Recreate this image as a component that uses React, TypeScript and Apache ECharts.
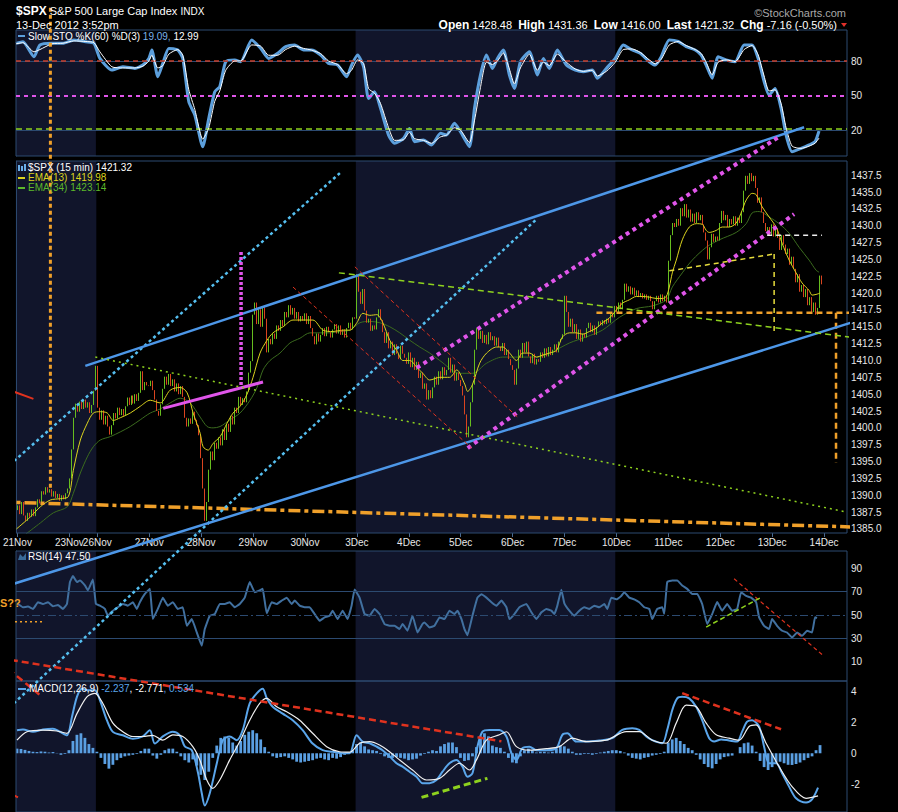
import React, { useEffect, useRef } from "react";
import * as echarts from "echarts";

const FONT = '"Liberation Sans", Arial, sans-serif';

// ---------------- time axis ----------------
const dayLabels = ["21Nov", "23Nov", "26Nov", "27Nov", "28Nov", "29Nov", "30Nov", "3Dec", "4Dec", "5Dec", "6Dec", "7Dec", "10Dec", "11Dec", "12Dec", "13Dec"];
const barsPerDay = [26, 14, 26, 26, 26, 26, 26, 26, 26, 26, 26, 26, 26, 26, 26, 26];
const futureLabel = "14Dec";
const padBars = 12;
const shadedWeeks = [["21Nov", "26Nov"], ["3Dec", "10Dec"]];

// ---------------- price (15 min closes) ----------------
const firstOpen = 1387.8;
const closes = [
  // 21Nov
  1388.5, 1387.2, 1389.0, 1387.0, 1386.2, 1387.4, 1386.8, 1387.9, 1386.9, 1388.2, 1389.4, 1388.8, 1390.6, 1390.1, 1391.2, 1390.4, 1390.9, 1389.8, 1390.6, 1389.6, 1390.2, 1389.2, 1390.0, 1389.4, 1390.3, 1391.0,
  // 23Nov
  1392.5, 1396.8, 1401.5, 1403.6, 1402.4, 1403.9, 1402.8, 1404.2, 1403.0, 1403.8, 1402.2, 1403.4, 1405.5, 1409.2,
  // 26Nov
  1403.0, 1401.2, 1402.6, 1400.5, 1401.8, 1400.2, 1399.0, 1400.4, 1402.2, 1401.4, 1403.0, 1401.9, 1402.8, 1401.8, 1403.2, 1404.5, 1403.4, 1404.8, 1403.6, 1405.0, 1404.0, 1405.2, 1408.4, 1405.6, 1406.8, 1406.3,
  // 27Nov
  1406.2, 1407.0, 1405.6, 1404.2, 1402.5, 1401.8, 1403.5, 1405.8, 1407.6, 1406.4, 1408.0, 1406.2, 1407.2, 1405.4, 1406.6, 1405.0, 1406.2, 1404.6, 1401.5, 1400.2, 1401.4, 1400.6, 1402.4, 1401.2, 1400.4, 1398.9,
  // 28Nov
  1395.5, 1391.0, 1386.2, 1389.0, 1393.8, 1396.5, 1395.2, 1397.8, 1396.9, 1398.6, 1397.4, 1399.8, 1398.2, 1400.6, 1399.4, 1401.8, 1400.5, 1403.0, 1402.2, 1404.6, 1403.4, 1404.4, 1403.8, 1405.4, 1408.2, 1409.9,
  // 29Nov
  1416.8, 1418.6, 1415.4, 1417.6, 1415.0, 1417.9, 1416.2, 1411.2, 1413.2, 1412.4, 1414.0, 1413.2, 1415.2, 1414.4, 1416.0, 1415.1, 1417.2, 1416.4, 1418.2, 1416.8, 1417.8, 1416.2, 1417.2, 1415.8, 1416.6, 1415.9,
  // 30Nov
  1417.0, 1415.4, 1416.6, 1414.8, 1413.6, 1412.4, 1414.0, 1412.8, 1413.8, 1414.8, 1413.6, 1415.0, 1414.2, 1413.4, 1414.6, 1415.4, 1414.0, 1415.2, 1413.8, 1414.6, 1413.4, 1414.8, 1415.6, 1414.6, 1416.4, 1416.2,
  // 3Dec
  1422.8, 1420.2, 1418.4, 1420.6, 1417.4, 1415.6, 1416.2, 1414.4, 1415.2, 1414.6, 1416.4, 1417.6, 1416.0, 1414.2, 1412.6, 1414.2, 1411.8, 1412.8, 1410.8, 1412.4, 1411.0, 1410.2, 1412.2, 1411.0, 1410.4, 1409.5,
  // 4Dec
  1411.2, 1409.0, 1410.4, 1408.6, 1409.8, 1407.4, 1408.2, 1405.8, 1406.6, 1404.2, 1405.6, 1404.4, 1406.0, 1407.6, 1406.4, 1408.4, 1407.2, 1409.0, 1407.8, 1408.6, 1410.4, 1408.2, 1409.4, 1407.0, 1408.2, 1407.1,
  // 5Dec
  1406.2, 1404.8, 1402.0, 1398.6, 1400.2, 1403.8, 1406.4, 1411.6, 1414.8, 1413.2, 1414.4, 1412.6, 1413.8, 1412.4, 1414.2, 1413.0, 1413.6, 1412.2, 1413.4, 1412.0, 1411.4, 1412.6, 1410.8, 1411.6, 1410.2, 1409.3,
  // 6Dec
  1408.6, 1406.4, 1408.8, 1411.6, 1410.4, 1412.6, 1411.2, 1412.8, 1410.6, 1409.6, 1411.0, 1409.4, 1410.2, 1409.8, 1411.2, 1410.4, 1411.8, 1410.6, 1412.0, 1410.8, 1411.6, 1412.4, 1411.2, 1412.8, 1413.2, 1413.9,
  // 7Dec
  1419.6, 1417.2, 1415.0, 1416.2, 1414.2, 1415.4, 1413.2, 1414.6, 1412.8, 1414.0, 1413.4, 1414.8, 1415.6, 1414.2, 1415.2, 1413.8, 1415.0, 1415.8, 1415.2, 1416.0, 1415.4, 1416.2, 1415.6, 1417.0, 1416.4, 1418.1,
  // 10Dec
  1417.2, 1418.6, 1417.6, 1419.0, 1421.4, 1420.2, 1421.0, 1419.8, 1420.8, 1419.6, 1420.4, 1419.4, 1420.0, 1419.2, 1419.8, 1419.0, 1419.6, 1418.8, 1417.6, 1418.8, 1419.6, 1418.6, 1419.8, 1418.8, 1419.6, 1418.6,
  // 11Dec
  1424.8, 1428.6, 1430.4, 1429.8, 1431.0, 1430.0, 1432.6, 1431.4, 1433.2, 1431.2, 1432.4, 1430.6, 1431.8, 1430.4, 1432.0, 1430.8, 1431.6, 1430.2, 1429.0, 1427.8, 1425.0, 1426.8, 1428.8, 1427.6, 1428.4, 1427.8,
  // 12Dec
  1430.4, 1432.2, 1430.8, 1431.6, 1429.8, 1431.0, 1430.2, 1431.4, 1430.0, 1431.2, 1430.4, 1432.0, 1435.2, 1437.4, 1436.2, 1437.8, 1436.6, 1437.4, 1435.6, 1433.4, 1434.2, 1432.0, 1430.4, 1429.2, 1429.8, 1428.5,
  // 13Dec
  1430.2, 1428.4, 1429.6, 1428.2, 1426.4, 1428.6, 1427.2, 1425.8, 1426.6, 1424.2, 1425.4, 1423.6, 1421.6, 1422.8, 1420.2, 1421.2, 1419.4, 1420.6, 1418.2, 1419.4, 1417.2, 1418.6, 1416.8, 1417.8, 1422.6, 1421.3,
];

// ---------------- overlays, [bar position, value] ----------------
const ema13 = [
  [0, 1385.0], [7, 1386.8], [12, 1388.3], [17, 1389.3], [22, 1389.5], [26, 1389.8], [28.5, 1393.7], [32, 1398.2], [35.5, 1400.7], [38.5, 1402.2],
  [42, 1402.4], [45.5, 1402.2], [48.5, 1401.1], [52, 1401.5], [57, 1402.2], [62, 1403.2], [67, 1404.1], [72, 1403.7], [77, 1405.6], [82, 1406.0],
  [85.5, 1405.2], [88.5, 1402.2], [92, 1399.2], [93.5, 1397.2], [96, 1396.7], [98.5, 1397.7], [102, 1398.7], [105.5, 1400.7], [108.5, 1402.2], [112, 1403.2],
  [115.5, 1405.0], [118.5, 1407.5], [122, 1411.1], [125.5, 1413.0], [128.5, 1414.1], [133.5, 1415.0], [138.5, 1416.0], [143.5, 1416.0], [148.5, 1416.0], [153.5, 1414.5],
  [158.5, 1414.3], [163.5, 1414.5], [167, 1414.5], [170.5, 1415.6], [173.5, 1417.0], [177, 1416.7], [180.5, 1416.8], [183.5, 1415.6], [187, 1413.0], [190.5, 1411.5],
  [193.5, 1410.0], [197, 1410.0], [200.5, 1409.0], [203.5, 1408.1], [207, 1407.1], [212, 1407.5], [217, 1407.5], [220.5, 1408.6], [224.5, 1406.5], [226, 1405.4],
  [228.5, 1406.5], [232, 1409.6], [235.5, 1411.1], [240.5, 1412.0], [243.5, 1412.0], [247, 1411.1], [250.5, 1410.0], [253.5, 1411.1], [257, 1411.1], [260.5, 1410.5],
  [263.5, 1410.8], [267, 1411.1], [270.5, 1411.5], [273.5, 1413.5], [277, 1414.1], [280.5, 1414.1], [283.5, 1413.9], [287, 1414.3], [290.5, 1414.8], [293.5, 1415.6],
  [297, 1416.3], [300.5, 1417.5], [303.5, 1418.5], [307, 1419.0], [310.5, 1419.5], [313.5, 1419.5], [317, 1419.4], [320.5, 1419.2], [323.5, 1419.2], [325.5, 1419.5],
  [327, 1420.9], [328.5, 1423.0], [330.5, 1424.9], [333.5, 1427.9], [337, 1429.8], [340.5, 1430.3], [343.5, 1430.2], [345.5, 1429.3], [347, 1429.0], [350.5, 1429.3],
  [353.5, 1429.8], [357, 1429.8], [360.5, 1430.4], [363.5, 1432.3], [365.5, 1433.8], [368.5, 1434.8], [370.5, 1434.6], [373.5, 1432.8], [377, 1431.3], [380.5, 1429.8],
  [383.5, 1427.4], [387, 1424.9], [390.5, 1423.0], [393.5, 1421.5], [397, 1420.4], [398.5, 1419.7], [400.5, 1419.8], [402.5, 1420.0],
];
const ema34 = [
  [4.5, 1384.2], [12, 1385.9], [18.5, 1387.4], [25.5, 1388.3], [28.5, 1390.3], [32, 1393.3], [35.5, 1395.7], [38.5, 1397.2], [42, 1398.2], [47, 1398.7],
  [52, 1399.4], [57, 1400.2], [62, 1401.2], [67, 1402.2], [72, 1402.8], [77, 1403.7], [82, 1404.4], [87, 1403.7], [92, 1401.6], [95.5, 1400.2],
  [98.5, 1400.0], [102, 1400.2], [107, 1401.2], [112, 1402.2], [117, 1404.1], [120.5, 1406.0], [123.5, 1408.6], [127, 1410.0], [132, 1411.1], [137, 1412.6],
  [142, 1413.3], [147, 1414.1], [152, 1414.1], [157, 1414.1], [162, 1414.3], [167, 1414.5], [172, 1415.6], [177, 1415.8], [182, 1415.6], [187, 1415.0],
  [192, 1414.1], [197, 1413.0], [202, 1412.0], [207, 1411.1], [212, 1410.0], [222, 1408.1], [228.5, 1408.1], [235.5, 1409.6], [243.5, 1410.5], [252, 1410.5],
  [260.5, 1410.5], [268.5, 1411.3], [277, 1412.6], [285.5, 1413.5], [293.5, 1414.5], [302, 1416.4], [310.5, 1417.7], [318.5, 1418.1], [325.5, 1419.0], [328.5, 1420.9],
  [333.5, 1423.0], [338.5, 1424.9], [345.5, 1426.8], [352, 1427.9], [360.5, 1429.0], [365.5, 1430.3], [368.5, 1431.9], [372, 1432.1], [377, 1431.3], [382, 1430.3],
  [387, 1428.9], [392, 1426.8], [397, 1424.9], [400.5, 1423.4], [402, 1423.1],
];

const stoK = [
  [0, 95.4], [3.5, 96.8], [9, 83.7], [12, 93.9], [18, 95.4], [23.5, 95.4], [29, 98.3], [35, 96.8], [39, 95.4], [42, 82.3],
  [48, 72.2], [53.5, 75.0], [59.5, 73.6], [63.5, 76.5], [66.5, 82.3], [68, 89.6], [71, 66.4], [73.5, 78.0], [76.5, 91.0], [81, 89.6],
  [83.5, 82.3], [86.5, 44.6], [89.5, 33.0], [93.5, 5.5], [96.5, 30.2], [99.5, 53.3], [102, 57.7], [105, 79.4], [109.5, 80.9], [112.5, 79.4],
  [118, 98.3], [122.5, 91.0], [126.5, 82.3], [131, 86.7], [135, 92.5], [139.5, 93.9], [144, 89.6], [148, 89.6], [152.5, 85.2], [156.5, 78.0],
  [161, 76.5], [165.5, 66.4], [168, 76.5], [171, 85.2], [174, 75.0], [176.5, 47.5], [179.5, 53.3], [182.5, 38.8], [186.5, 15.6], [189.5, 8.4],
  [194, 12.7], [197, 21.4], [199.5, 9.8], [204, 11.3], [208, 7.0], [212.5, 17.1], [215.5, 15.6], [219.5, 25.8], [222.5, 18.5], [227, 5.5],
  [229.5, 38.8], [232.5, 67.8], [235.5, 85.2], [238.5, 73.6], [241, 82.3], [244, 89.6], [247, 67.8], [249.5, 56.2], [252.5, 79.4], [257, 88.1],
  [261, 67.8], [264, 82.3], [267, 73.6], [271, 89.6], [275.5, 76.5], [280, 72.2], [284, 70.7], [288.5, 72.2], [291, 65.0], [295.5, 73.6],
  [300, 82.3], [304, 93.9], [308.5, 89.6], [312.5, 86.7], [317, 79.4], [320, 76.5], [323, 83.7], [327, 98.3], [331.5, 97.0], [335.5, 92.5],
  [340, 89.6], [343, 85.2], [345.5, 76.5], [348.5, 65.0], [351.5, 83.7], [355.5, 80.9], [360, 79.4], [364.5, 93.9], [368.5, 93.9], [371.5, 82.3],
  [374.5, 62.2], [377, 50.4], [380, 56.2], [383, 38.8], [385.5, 15.6], [388.5, 1.1], [393, 4.0], [397, 7.0], [400, 9.8], [402, 19.09],
];
const stoD = [
  [0, 95.0], [3.5, 96.0], [9, 88.0], [12, 90.0], [18, 95.0], [23.5, 95.5], [29, 97.5], [35, 97.0], [39, 96.0], [42, 88.0],
  [48, 75.0], [53.5, 74.0], [59.5, 74.0], [63.5, 75.5], [66.5, 80.0], [68, 85.0], [71, 74.0], [73.5, 76.0], [76.5, 86.0], [81, 90.0],
  [83.5, 85.0], [86.5, 55.0], [89.5, 38.0], [93.5, 12.0], [96.5, 22.0], [99.5, 45.0], [102, 54.0], [105, 72.0], [109.5, 80.0], [112.5, 80.0],
  [118, 94.0], [122.5, 93.0], [126.5, 85.0], [131, 85.0], [135, 90.0], [139.5, 93.0], [144, 91.0], [148, 89.5], [152.5, 86.5], [156.5, 80.0],
  [161, 77.0], [165.5, 69.0], [168, 72.0], [171, 81.0], [174, 78.0], [176.5, 56.0], [179.5, 52.0], [182.5, 43.0], [186.5, 22.0], [189.5, 11.0],
  [194, 11.5], [197, 18.0], [199.5, 12.5], [204, 11.0], [208, 8.5], [212.5, 14.0], [215.5, 15.5], [219.5, 22.0], [222.5, 20.0], [227, 9.0],
  [229.5, 28.0], [232.5, 57.0], [235.5, 79.0], [238.5, 77.0], [241, 80.0], [244, 87.0], [247, 73.0], [249.5, 60.0], [252.5, 74.0], [257, 86.0],
  [261, 72.0], [264, 79.0], [267, 76.0], [271, 86.0], [275.5, 79.0], [280, 73.0], [284, 71.0], [288.5, 72.0], [291, 67.0], [295.5, 71.0],
  [300, 79.0], [304, 90.0], [308.5, 90.5], [312.5, 87.5], [317, 81.0], [320, 77.5], [323, 81.5], [327, 94.0], [331.5, 97.0], [335.5, 93.5],
  [340, 90.0], [343, 86.5], [345.5, 79.0], [348.5, 68.0], [351.5, 79.0], [355.5, 81.0], [360, 79.5], [364.5, 90.0], [368.5, 93.5], [371.5, 85.5],
  [374.5, 67.0], [377, 54.0], [380, 55.0], [383, 43.0], [385.5, 22.0], [388.5, 6.0], [393, 4.0], [397, 6.0], [400, 8.5], [402, 12.99],
];

const rsi14 = [
  [1, 59.4], [3.5, 56.6], [6, 57.2], [8.5, 55.2], [11, 60.9], [13.5, 59.4], [16, 60.9], [18.5, 57.5], [21, 58.5], [23.5, 55.2],
  [25.5, 59.4], [27, 78.1], [28.5, 83.2], [30.5, 78.1], [32, 79.5], [34.5, 75.2], [36, 71.0], [38.5, 80.3], [40, 59.4], [42, 58.0],
  [44.5, 55.2], [46, 49.4], [48.5, 53.7], [51, 56.6], [53.5, 59.4], [56, 58.0], [58.5, 60.9], [60.5, 55.2], [62, 60.9], [64.5, 68.0],
  [67, 72.3], [68.5, 46.5], [71, 55.2], [73.5, 64.8], [76, 57.9], [78.5, 60.9], [81, 55.2], [83.5, 56.6], [85.5, 40.8], [88, 46.5],
  [90.5, 35.1], [93, 23.7], [94.5, 38.0], [97, 49.4], [99.5, 50.8], [102, 59.4], [104.5, 59.4], [107, 60.9], [109.5, 56.6], [112, 59.4],
  [114.5, 64.8], [117, 78.1], [119.5, 69.4], [122, 71.0], [123.5, 72.3], [125.5, 51.4], [128, 60.9], [130.5, 59.4], [133, 62.3], [135.5, 64.8],
  [138, 59.4], [139.5, 62.3], [142, 58.0], [144.5, 56.6], [147, 56.6], [149.5, 50.8], [152, 45.1], [154.5, 48.0], [157, 49.4], [158.5, 53.7],
  [161, 46.5], [163.5, 53.7], [166, 46.5], [168, 58.0], [169.5, 71.7], [172, 64.8], [174.5, 50.8], [177, 49.4], [179.5, 55.2], [182, 50.8],
  [184.5, 42.3], [187, 40.8], [189.5, 40.8], [192, 38.0], [193.5, 42.3], [196, 36.6], [198.5, 49.4], [201, 35.1], [203.5, 42.3], [204.5, 43.7],
  [207, 39.4], [209.5, 40.8], [212, 47.9], [214.5, 46.5], [217, 53.7], [219.5, 50.8], [221, 53.7], [223, 46.5], [224.5, 38.0], [226, 32.8],
  [228.5, 49.4], [231, 64.8], [233, 67.7], [235.5, 64.8], [238, 60.9], [240.5, 57.9], [243, 62.3], [245.5, 56.6], [247, 46.5], [249.5, 50.8],
  [252, 56.6], [255.5, 59.4], [258, 52.3], [260.5, 46.5], [263, 52.3], [265.5, 55.2], [268, 53.7], [269.5, 50.8], [271, 58.0], [273, 71.6],
  [274.5, 60.0], [277, 53.7], [279.5, 49.4], [282, 53.7], [284.5, 56.6], [287, 55.2], [289.5, 58.0], [292, 56.6], [294.5, 59.4], [296, 55.2],
  [298, 64.8], [300.5, 63.4], [303, 66.3], [304.5, 69.4], [307, 64.8], [309.5, 63.4], [312, 60.9], [314.5, 56.6], [317, 55.2], [318.5, 46.5],
  [321, 55.2], [323.5, 56.6], [324.5, 51.0], [326, 78.1], [328.5, 79.5], [331, 79.5], [333.5, 75.2], [336, 72.3], [338.5, 68.0], [341, 68.0],
  [343.5, 59.4], [346, 42.3], [348.5, 50.8], [351, 61.0], [353.5, 53.7], [356, 59.4], [358.5, 53.7], [361, 55.2], [363, 69.4], [365.5, 66.3],
  [368, 64.8], [370.5, 60.9], [372, 48.0], [374.5, 40.8], [377, 38.0], [378.5, 46.5], [381, 40.8], [383.5, 36.6], [386, 35.1], [388.5, 30.8],
  [391, 35.1], [393.5, 32.2], [396, 36.6], [398.5, 35.1], [400, 48.0], [401, 47.5],
];

const macdLine = [
  [0.5, 1.50], [3.5, 1.55], [8.5, 1.40], [13.5, 1.55], [18.5, 1.60], [22, 1.40], [25.5, 1.17], [28, 2.36], [30.5, 3.67], [33, 4.20],
  [36, 4.10], [39.5, 4.10], [42, 3.45], [45.5, 2.15], [48.5, 1.39], [53.5, 1.17], [58.5, 0.95], [63.5, 1.10], [67, 1.50], [69.5, 0.63],
  [73.5, 1.10], [78.5, 1.40], [82, 1.17], [84.5, 0.45], [88, 0.20], [91, -1.20], [93, -2.60], [94.5, -3.39], [97, -2.60], [100.5, -0.67],
  [103.5, 0.85], [107, 1.09], [110.5, 0.85], [113.5, 1.50], [117, 3.24], [120.5, 3.89], [123.5, 4.20], [125.5, 3.60], [128.5, 3.02], [133.5, 2.58],
  [138.5, 2.15], [143.5, 1.50], [148.5, 0.63], [153.5, 0.20], [158.5, 0.10], [163.5, 0.00], [167, 0.00], [170.5, 1.17], [173.5, 0.76], [177, 0.65],
  [180.5, 0.43], [183.5, 0.20], [187, -0.20], [190.5, -0.65], [193.5, -0.87], [197, -1.20], [200.5, -1.52], [203.5, -1.95], [207, -1.95], [210.5, -1.74],
  [213.5, -1.20], [217, -0.65], [220.5, -0.43], [223.5, -0.87], [226, -1.52], [228.5, -1.30], [231, 0.43], [233.5, 1.41], [237, 1.52], [242, 1.52],
  [245.5, 1.09], [248, 0.00], [250.5, -0.43], [253.5, 0.33], [257, 0.43], [260.5, 0.20], [265.5, 0.20], [270.5, 0.33], [273.5, 1.20], [276, 1.30],
  [280.5, 0.76], [285.5, 0.76], [292, 0.83], [298.5, 0.98], [303.5, 1.52], [308.5, 1.63], [312, 1.52], [315.5, 1.09], [318.5, 0.85], [323.5, 0.65],
  [326, 1.52], [328.5, 2.80], [331, 3.57], [333.5, 3.67], [337, 3.57], [340.5, 3.02], [343.5, 2.15], [347, 0.98], [349.5, 0.76], [353, 0.90],
  [357, 0.83], [361, 0.76], [363.5, 1.41], [366, 2.06], [368.5, 2.15], [372, 1.74], [374.5, 0.43], [377, -0.65], [380.5, -0.65], [383.5, -1.30],
  [387, -2.17], [390.5, -2.93], [395.5, -3.20], [398.5, -3.00], [401.5, -2.24],
];
const macdSignal = [
  [0.5, 0.85], [5.5, 1.40], [13.5, 1.50], [20.5, 1.45], [25.5, 1.30], [30.5, 2.58], [35.5, 3.67], [39.5, 3.90], [43.5, 3.24], [48.5, 1.96],
  [53.5, 1.40], [58.5, 1.09], [63.5, 1.09], [68.5, 1.17], [73.5, 0.85], [78.5, 1.20], [83.5, 1.09], [88.5, 0.43], [92, -0.43], [95.5, -1.74],
  [98.5, -2.28], [102, -1.74], [107, -0.43], [112, 0.76], [117, 2.15], [122, 3.24], [125.5, 3.57], [130.5, 3.02], [135.5, 2.70], [142, 2.15],
  [148.5, 1.30], [155.5, 0.43], [162, 0.10], [167, 0.07], [172, 0.65], [177, 0.76], [182, 0.54], [187, 0.10], [192, -0.43], [198.5, -1.09],
  [205.5, -1.74], [212, -1.63], [217, -1.09], [222, -0.65], [227, -1.09], [230.5, -0.43], [235.5, 0.85], [242, 1.20], [245.5, 1.40], [250.5, 0.43],
  [257, 0.20], [265.5, 0.30], [272, 0.43], [278.5, 0.98], [285.5, 0.76], [295.5, 0.85], [305.5, 1.41], [312, 1.41], [318.5, 0.85], [325.5, 0.65],
  [330.5, 1.96], [335.5, 3.13], [340.5, 3.02], [345.5, 1.96], [350.5, 1.20], [357, 0.98], [362, 0.85], [367, 1.74], [370.5, 1.85], [375.5, 0.65],
  [382, -0.87], [388.5, -2.17], [395.5, -2.93], [401.5, -2.77],
];
// histogram read every 2nd bar
const HIST_STEP = 2;
const macdHist = [
  0.30, 0.28, 0.22, 0.15, 0.10, 0.08, 0.12, 0.10, 0.05, 0.08, 0.02, -0.10, -0.05, 0.20, 0.80, 1.20, 1.30, 1.00, 0.60, 0.35,
  0.10, -0.30, -0.70, -1.00, -0.75, -0.45, -0.30, -0.20, -0.15, -0.10, -0.05, 0.15, 0.30, 0.30, -0.15, -0.35, -0.10, 0.20, 0.30, 0.30,
  0.10, -0.20, -0.45, -0.60, -0.40, -0.80, -1.40, -1.74, -1.20, -0.30, 0.50, 1.00, 1.09, 1.00, 0.70, 0.50, 0.80, 1.20, 1.40, 1.50,
  1.30, 0.90, 0.40, 0.10, -0.20, -0.30, -0.25, -0.20, -0.30, -0.40, -0.55, -0.60, -0.55, -0.50, -0.45, -0.35, -0.30, -0.40, -0.45, -0.30,
  -0.35, -0.25, -0.10, 0.00, 0.20, 0.60, 0.70, 0.45, 0.25, 0.20, 0.15, -0.05, -0.20, -0.30, -0.30, -0.25, -0.30, -0.35, -0.45, -0.40,
  -0.35, -0.15, -0.05, 0.10, 0.20, 0.15, 0.45, 0.60, 0.70, 0.70, 0.40, -0.30, -0.50, -0.45, -0.20, 0.40, 1.10, 1.30, 1.10, 0.50,
  0.40, 0.35, 0.10, -0.30, -0.60, -0.65, -0.20, 0.20, 0.30, 0.20, 0.05, 0.10, 0.10, 0.05, 0.10, 0.30, 0.50, 0.45, 0.30, 0.10,
  -0.10, -0.10, -0.05, -0.05, -0.10, -0.05, 0.05, 0.10, 0.15, 0.20, 0.20, 0.15, 0.05, -0.15, -0.30, -0.35, -0.40, -0.30, -0.25, -0.15,
  -0.10, -0.05, 0.10, 0.70, 0.90, 1.00, 0.80, 0.60, 0.35, 0.20, -0.10, -0.40, -0.70, -0.90, -0.98, -0.70, -0.40, -0.25, -0.20, -0.15,
  0.00, 0.40, 0.65, 0.70, 0.50, 0.10, -0.50, -0.90, -1.09, -0.90, -0.60, -0.55, -0.65, -0.75, -0.76, -0.70, -0.60, -0.45, -0.30, -0.20,
  0.20, 0.53,
];

// ---------------- legend values ----------------
const lastClose = "1421.32";
const lastEma13 = "1419.98";
const lastEma34 = "1423.14";
const lastStoK = "19.09";
const lastStoD = "12.99";
const lastRsi = "47.50";
const lastMacd = ["-2.237", "-2.771", "0.534"];

// ---------------- axis ticks ----------------
const priceTicks = [1385.0, 1387.5, 1390.0, 1392.5, 1395.0, 1397.5, 1400.0, 1402.5, 1405.0, 1407.5, 1410.0, 1412.5, 1415.0, 1417.5, 1420.0, 1422.5, 1425.0, 1427.5, 1430.0, 1432.5, 1435.0, 1437.5];
const stoTicks = [20, 50, 80];
const rsiTicks = [10, 30, 50, 70, 90];
const rsiMinorTicks = [0, 10, 20, 30, 40, 50, 60, 70, 80, 90, 100];
const macdTicks = [-2, 0, 2, 4];
const macdMinorTicks = [-3, -2.5, -2, -1.5, -1, -0.5, 0, 0.5, 1, 1.5, 2, 2.5, 3, 3.5, 4, 4.5];
const stoRange = [-2.6, 107];
const priceRange = [1384.4, 1439.6];
const rsiRange = [-6.3, 104.6];
const macdRange = [-3.82, 4.7];
const stoLevelsDashed = [80, 50, 21.5];
const stoLevelsSolid = [80, 20];
const rsiLevelsSolid = [70, 30];
const rsiMid = 50;

// ---------------- hand-drawn trend lines [bar position, value] ----------------
const tlOrangeFloor = [[-8, 1389.0], [435.5, 1385.15]];
const tlOrangeMarker = [[17, 1391.1], [17, 1462.7]];
const tlOrangeSupport = [[290.5, 1417.1], [417, 1417.1]];
const tlOrangeDrop = [[410.5, 1417.1], [410.5, 1394.8]];
const tlSkyA = [[-8, 1393.3], [162, 1437.8]];
const tlSkyB = [[-8, 1357.3], [261, 1431.1]];
const tlBlueTop = [[34.5, 1409.2], [394.5, 1444.6]];
const tlBlueBottom = [[-8, 1376.25], [438.5, 1417.5]];
const tlMagentaFlag = [[73.5, 1402.9], [123.5, 1406.8]];
const tlMagentaPole = [[112.5, 1426.1], [112.5, 1406.1]];
const tlMagentaTop = [[200.5, 1408.9], [381.5, 1443.1]];
const tlMagentaBottom = [[226, 1397.0], [389.5, 1431.7]];
const tlRedChanTop = [[169.5, 1423.9], [251, 1401.6]];
const tlRedChanBottom = [[138.5, 1420.9], [228, 1397.0]];
const tlGreenDotted = [[39.5, 1410.5], [416, 1387.5]];
const tlGreenDashed = [[161.5, 1423.0], [441, 1412.6]];
const tlYellowNeck = [[327, 1423.3], [379.5, 1425.8]];
const tlYellowDrop = [[379.5, 1425.8], [379.5, 1413.8]];
const tlWhiteLevel = [[376, 1428.6], [403.5, 1428.6]];
const tlRedLeft = [[-8, 1406.1], [8.5, 1404.3]];
const tlRsiRed = [[359.5, 80.9], [404.5, 14.8]];
const tlRsiGreen = [[345.5, 39.7], [373.5, 65.5]];
const tlRsiOrange = [[-8, 44.2], [13.5, 44.2]];
const tlMacdRedLong = [[-8, 6.19], [243, 0.78]];
const tlMacdRedShort = [[-8, 5.93], [12, 3.78]];
const tlMacdRedSolid = [[-8, -2.28], [1, -2.87]];
const tlMacdRedRight = [[333.5, 3.91], [383, 1.56]];
const tlMacdGreen = [[203, -2.87], [236, -1.63]];

// ---------------- colours ----------------
const PANEL = "#2c4a70";
const SHADE = "#11152b";
const TXT = "#e8e8e8";
const UP = "#66bd1f";
const DOWN = "#da441f";
const ORANGE = "#f0a02a";
const SKY = "#55bff0";
const BLUE = "#4d97e8";
const MAGENTA = "#e055ea";
const RED = "#e0321e";
const GREEN = "#8ed21e";
const YELLOW = "#e6dc3c";

function buildOption() {
  const categories: string[] = [];
  const dayStart: boolean[] = [];
  dayLabels.forEach((d, k) => {
    for (let i = 0; i < barsPerDay[k]; i++) {
      categories.push(d + "#" + i);
      dayStart.push(i === 0);
    }
  });
  for (let i = 0; i < padBars; i++) {
    categories.push(futureLabel + "#" + i);
    dayStart.push(i === 0);
  }
  const total = categories.length;
  const dayIndex = (label: string) => categories.indexOf(label + "#0");

  const candles = closes.map((c, i) => {
    const o = i === 0 ? firstOpen : closes[i - 1];
    return [o, c, Math.min(o, c), Math.max(o, c)];
  });
  const hist = categories.map((_, i) =>
    i % HIST_STEP === 0 && i / HIST_STEP < macdHist.length ? macdHist[i / HIST_STEP] : "-"
  );

  const grids = [
    { top: 30, height: 126 },
    { top: 161, height: 372 },
    { top: 551, height: 130 },
    { top: 681, height: 131 },
  ].map((g) => ({
    left: 16, width: 831, top: g.top, height: g.height, show: true,
    borderColor: PANEL, borderWidth: 1, backgroundColor: "transparent", z: 5,
  }));

  const xAxis: any[] = [];
  for (let g = 0; g < 4; g++) {
    xAxis.push({
      type: "category", gridIndex: g, data: categories, boundaryGap: true,
      show: g === 1,
      axisLine: { show: false },
      axisTick: {
        show: true, alignWithLabel: true, length: 4,
        interval: (i: number) => dayStart[i],
        lineStyle: { color: "#4a6a90" },
      },
      axisLabel: {
        interval: (i: number) => dayStart[i],
        formatter: (v: string) => v.split("#")[0],
        color: TXT, fontSize: 10, fontFamily: FONT, margin: 4,
      },
      splitLine: { show: false },
    });
    xAxis.push({ type: "value", gridIndex: g, min: 0, max: total, show: false });
  }

  const yBase = (g: number, range: number[], labels: number[], ticks: number[], fmt: (v: number) => string) => ({
    type: "value", gridIndex: g, position: "right", min: range[0], max: range[1],
    axisLine: { show: true, lineStyle: { color: PANEL } },
    axisTick: { show: true, customValues: ticks, length: 3, lineStyle: { color: "#4a6a90" } },
    axisLabel: { customValues: labels, formatter: fmt, color: TXT, fontSize: 10, fontFamily: FONT, margin: 4 },
    splitLine: { show: false },
  });
  const yAxis = [
    yBase(0, stoRange, stoTicks, stoTicks, (v) => String(v)),
    yBase(1, priceRange, priceTicks, priceTicks, (v) => v.toFixed(1)),
    yBase(2, rsiRange, rsiTicks, rsiMinorTicks, (v) => String(v)),
    yBase(3, macdRange, macdTicks, macdMinorTicks, (v) => String(v)),
  ];

  const shadeData = shadedWeeks.map(([a, b]) => [{ xAxis: dayIndex(a) }, { xAxis: dayIndex(b) }]);
  const backdrop = (g: number, lines: any[]) => ({
    type: "line", xAxisIndex: 2 * g + 1, yAxisIndex: g, data: [], silent: true, z: 1,
    markArea: { silent: true, itemStyle: { color: SHADE }, data: shadeData },
    markLine: { silent: true, symbol: ["none", "none"], label: { show: false }, data: lines },
  });

  const seg = (g: number, data: number[][], color: string, width: number, type: any) => ({
    type: "line", xAxisIndex: 2 * g + 1, yAxisIndex: g, data, symbol: "none", silent: true,
    clip: false, z: 10, lineStyle: { color, width, type, cap: "butt" },
  });
  const ind = (g: number, data: number[][], color: string, width: number, z = 4, smooth: any = 0.3) => ({
    type: "line", xAxisIndex: 2 * g + 1, yAxisIndex: g, data, symbol: "none", silent: true,
    smooth, z, lineStyle: { color, width },
  });

  const series: any[] = [
    backdrop(0, [
      ...stoLevelsSolid.map((v) => ({ yAxis: v, lineStyle: { color: PANEL, width: 1, type: "solid" } })),
      { yAxis: stoLevelsDashed[0], lineStyle: { color: "#c8402e", width: 1.5, type: [5, 4] } },
      { yAxis: stoLevelsDashed[1], lineStyle: { color: MAGENTA, width: 2, type: [4, 4] } },
      { yAxis: stoLevelsDashed[2], lineStyle: { color: GREEN, width: 1.5, type: [6, 4] } },
    ]),
    backdrop(1, []),
    backdrop(2, [
      ...rsiLevelsSolid.map((v) => ({ yAxis: v, lineStyle: { color: PANEL, width: 1, type: "solid" } })),
      { yAxis: rsiMid, lineStyle: { color: PANEL, width: 1, type: [8, 3, 2, 3] } },
    ]),
    backdrop(3, []),

    // STO
    ind(0, stoK, "#5c9fdc", 3, 4, 0.2),
    ind(0, stoD, "#ffffff", 1, 5, 0.2),

    // price
    ind(1, ema34, "#3b6b1e", 1, 3),
    {
      type: "candlestick", xAxisIndex: 2, yAxisIndex: 1, data: candles, barWidth: 1.3, silent: true, z: 4,
      itemStyle: { color: UP, color0: DOWN, borderColor: UP, borderColor0: DOWN, borderWidth: 1 },
    },
    ind(1, ema13, "#dcd41e", 1, 5),

    // RSI
    ind(2, rsi14, "#41709f", 2, 4, 0.1),

    // MACD
    {
      type: "bar", xAxisIndex: 6, yAxisIndex: 3, data: hist, barWidth: 2.8, silent: true, z: 3,
      itemStyle: { color: "#5a9fe2" },
    },
    ind(3, macdLine, "#5aa5ea", 2, 5),
    ind(3, macdSignal, "#f0f0f0", 1.2, 6),

    // annotations on price panel
    seg(1, tlOrangeFloor, ORANGE, 3.5, [12, 4, 4, 4]),
    seg(1, tlOrangeMarker, ORANGE, 3, [4, 3]),
    seg(1, tlOrangeSupport, ORANGE, 2.5, [6, 4]),
    seg(1, tlOrangeDrop, ORANGE, 2.5, [6, 4]),
    seg(1, tlSkyA, SKY, 2.5, [3, 3]),
    seg(1, tlSkyB, SKY, 2.5, [3, 3]),
    seg(1, tlBlueTop, BLUE, 2.5, "solid"),
    seg(1, tlBlueBottom, BLUE, 2.5, "solid"),
    seg(1, tlMagentaFlag, MAGENTA, 3, "solid"),
    seg(1, tlMagentaPole, MAGENTA, 3.5, [3, 2]),
    seg(1, tlMagentaTop, MAGENTA, 4, [4, 4]),
    seg(1, tlMagentaBottom, MAGENTA, 4, [4, 4]),
    seg(1, tlRedChanTop, RED, 1, [4, 3]),
    seg(1, tlRedChanBottom, RED, 1, [4, 3]),
    seg(1, tlGreenDotted, GREEN, 1.5, [2, 4]),
    seg(1, tlGreenDashed, GREEN, 1.5, [6, 4]),
    seg(1, tlYellowNeck, YELLOW, 1.5, [5, 4]),
    seg(1, tlYellowDrop, YELLOW, 1.5, [5, 4]),
    seg(1, tlWhiteLevel, "#eeeeee", 1.5, [5, 4]),
    seg(1, tlRedLeft, RED, 2, "solid"),

    // annotations on RSI
    seg(2, tlRsiRed, RED, 1.2, [4, 3]),
    seg(2, tlRsiGreen, GREEN, 1.5, [5, 3]),
    seg(2, tlRsiOrange, ORANGE, 1.5, [2, 3]),

    // annotations on MACD
    seg(3, tlMacdRedLong, RED, 2.5, [7, 4]),
    seg(3, tlMacdRedShort, RED, 2.5, [7, 4]),
    seg(3, tlMacdRedSolid, RED, 2, "solid"),
    seg(3, tlMacdRedRight, RED, 2.5, [7, 4]),
    seg(3, tlMacdGreen, GREEN, 3, [7, 4]),
  ];

  const t = (x: number, y: number, text: string, fill: string, size: number, extra: any = {}) => ({
    type: "text", x, y, z: 20, silent: true,
    style: { text, fill, fontSize: size, fontFamily: FONT, textVerticalAlign: "top", ...extra },
  });

  const graphic = [
    t(16, 5, "{b|$SPX} S&P 500 Large Cap Index {s|INDX}", "#ffffff", 11, {
      rich: {
        b: { fontWeight: "bold", fontSize: 12, fontFamily: FONT, fill: "#ffffff" },
        s: { fontSize: 10, fontFamily: FONT, fill: "#ffffff" },
      },
    }),
    t(16, 19, "13-Dec 2012 3:52pm", "#ffffff", 11),
    t(846, 7, "\u00A9StockCharts.com", "#a8a8a8", 11, { textAlign: "right" }),
    t(837, 19, "{b|Open} 1428.48  {b|High} 1431.36  {b|Low} 1416.00  {b|Last} 1421.32  {b|Chg} -7.16 (-0.50%)", "#ffffff", 11, {
      textAlign: "right",
      rich: { b: { fontWeight: "bold", fontSize: 12, fontFamily: FONT, fill: "#ffffff" } },
    }),
    { type: "polygon", z: 20, silent: true, shape: { points: [[841, 23], [847, 23], [844, 27]] }, style: { fill: "#e0302a" } },

    // STO legend
    { type: "rect", z: 20, silent: true, shape: { x: 18, y: 35, width: 7, height: 2 }, style: { fill: "#5c9fdc" } },
    t(28, 31, "Slow STO %K(60) %D(3) {k|" + lastStoK + ",} " + lastStoD, "#ffffff", 10, {
      rich: { k: { fill: "#7ab2ea", fontSize: 10, fontFamily: FONT } },
    }),

    // price legend
    { type: "rect", z: 20, silent: true, shape: { x: 18, y: 165, width: 2, height: 6 }, style: { fill: "#6aaee8" } },
    { type: "rect", z: 20, silent: true, shape: { x: 21, y: 166, width: 2, height: 5 }, style: { fill: "#6aaee8" } },
    { type: "rect", z: 20, silent: true, shape: { x: 24, y: 164, width: 2, height: 7 }, style: { fill: "#6aaee8" } },
    t(28, 162, "$SPX (15 min) " + lastClose, "#ffffff", 10),
    { type: "rect", z: 20, silent: true, shape: { x: 18, y: 177, width: 7, height: 2 }, style: { fill: "#dcd41e" } },
    t(28, 172, "EMA(13) " + lastEma13, "#dcd41e", 10),
    { type: "rect", z: 20, silent: true, shape: { x: 18, y: 187, width: 7, height: 2 }, style: { fill: "#5cb82a" } },
    t(28, 182, "EMA(34) " + lastEma34, "#5cb82a", 10),

    // RSI legend
    { type: "polygon", z: 20, silent: true, shape: { points: [[18, 560], [20, 554], [23, 557], [26, 553], [26, 560]] }, style: { fill: "#3a6a98" } },
    t(28, 551, "RSI(14) " + lastRsi, "#ffffff", 10),
    t(0, 597, "S??", ORANGE, 11, { fontWeight: "bold" }),

    // MACD legend
    { type: "rect", z: 20, silent: true, shape: { x: 18, y: 688, width: 8, height: 2 }, style: { fill: "#5aa5ea" } },
    t(29, 683, "MACD(12,26,9) {b|" + lastMacd[0] + "}, " + lastMacd[1] + "{b|, " + lastMacd[2] + "}", "#ffffff", 10, {
      rich: { b: { fill: "#5aa5ea", fontSize: 10, fontFamily: FONT } },
    }),
  ];

  return {
    animation: false,
    backgroundColor: "#000000",
    grid: grids,
    xAxis,
    yAxis,
    series,
    graphic,
  };
}

export default function App() {
  const ref = useRef<HTMLDivElement>(null);
  useEffect(() => {
    document.body.style.margin = "0";
    document.body.style.background = "#000";
    const chart = echarts.init(ref.current as HTMLDivElement, null, { renderer: "svg", width: 898, height: 812 });
    chart.setOption(buildOption() as any);
    return () => chart.dispose();
  }, []);
  return (
    <div
      ref={ref}
      style={{ position: "absolute", left: 0, top: 0, width: 898, height: 812, background: "#000" }}
    />
  );
}
